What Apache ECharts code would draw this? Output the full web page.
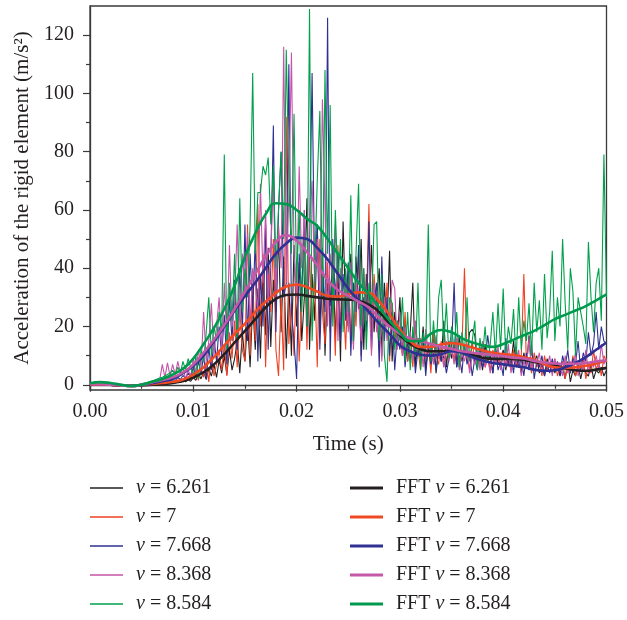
<!DOCTYPE html>
<html><head><meta charset="utf-8">
<script src="https://cdn.jsdelivr.net/npm/echarts@6/dist/echarts.min.js"></script>
<style>html,body{margin:0;padding:0;background:#fff}#c{width:627px;height:620px}</style>
</head><body><div id="c"></div>
<script>
// sampling of the raw signals and of the FFT-filtered curves (seconds)
const sampleStep = 0.00025;
const fftStep = 0.001;

const speeds = ['6.261', '7', '7.668', '8.368', '8.584'];

// raw acceleration signals (m/s^2), one value per sampleStep
const raw6261 = [
0.2,0.3,0.3,0.2,0.1,0,0,-0.1,-0.2,-0.3,-0.4,-0.4,-0.4,-0.4,-0.4,-0.3,-0.4,-0.3,-0.4,-0.3,
-0.2,-0.1,0,0.1,0.1,0.2,0.3,0.3,0.4,0.5,0.6,0.5,0.8,0.6,1.0,0.8,1.3,1.0,1.6,1.2,
2.5,1.5,3.8,2,4.5,1.8,5.5,3,7,2.5,8.5,4,10,3.5,12,5,9,15,4,18,
8,22,6,28,12,33,9,40,17,47,13,36,25,52,18,44,9,35,10,48,
20,42,15,30,64,12,38,22,55,18,47,10,35,27,45,16,40,8,56,25,
20,45,14,44,26,50,12,38,24,48,18,30,40,10,35,20,46,8,25,15,
30,10,22,8,18,35,6,16,9,20,5,14,7,18,4,12,8,22,6,15,
9,14,6,17,8,12,10,18,19,17,7,11,5,14,8,10,4,13,7,9,
12,5,10,7,15,6,9,4,11,6,17,5,8,10,4,7,3,9,6,8,
4,7,3,6,2,8,1,5,3,7,2,6,4,3,7,2,5,4,6,3,5];
const raw7 = [
0,0,0,0,0,0,-0.1,-0.2,-0.2,-0.3,-0.3,-0.3,-0.3,-0.3,-0.2,-0.3,-0.2,-0.2,-0.1,0,
0,0.1,0.2,0.3,0.2,0.4,0.3,0.5,0.4,0.6,0.5,0.9,0.6,1.2,0.8,1.6,1,2.2,1.4,3,
2,4.5,1.5,6,2.5,8,1,10,3,7,12,5,14,3,18,9,22,6,26,12,
8,55,10,35,15,62,20,45,6,38,25,50,12,3,30,5,92,14,28,10,
40,8,30,55,12,45,20,38,6,50,25,14,42,18,35,10,48,22,30,12,
40,15,35,20,45,10,30,25,62,18,38,25,12,30,20,35,8,28,15,22,
18,10,25,8,15,6,20,12,5,16,9,14,4,18,10,7,15,6,12,9,
14,8,16,6,12,40,10,5,15,8,11,7,13,6,10,5,12,8,9,6,
11,7,9,5,12,8,6,10,38,7,9,4,11,6,8,3,10,5,7,4,
9,3,6,8,2,7,4,10,3,6,5,9,2,7,4,12,5,8,3,10,8];
const raw7668 = [
0.3,0.3,0.2,0.2,0.1,0,0,-0.1,-0.2,-0.3,-0.3,-0.4,-0.4,-0.4,-0.3,-0.4,-0.3,-0.2,-0.3,-0.1,
0,0.1,0.2,0.3,0.4,0.5,0.6,0.7,0.9,1,1.3,1.1,1.8,1.4,2.5,1.8,3.2,2.2,4,3,
6,3,8,4,10,2,13,5,16,8,20,10,24,7,30,15,36,12,40,18,
55,15,45,25,50,8,38,20,55,12,42,89,18,60,80,30,35,110,25,15,
2,45,30,60,20,50,107,35,55,12,40,25,126,8,50,30,45,15,38,22,
42,10,35,25,48,8,30,18,56,12,28,35,6,44,15,30,10,25,5,18,
12,20,6,15,8,18,4,12,9,16,3,14,7,11,5,13,8,10,4,9,
12,35,6,10,4,14,7,11,3,9,5,13,6,8,17,10,4,12,5,8,
3,16,7,10,4,13,6,9,3,11,5,14,2,8,6,10,3,7,4,9,
5,8,3,10,6,12,4,9,7,15,5,11,8,18,10,14,25,12,20,15,14];
const raw8368 = [
0.2,0.2,0.2,0.1,0.1,0,0,-0.1,-0.2,-0.3,-0.3,-0.4,-0.4,-0.3,-0.3,-0.2,-0.2,-0.1,0,0.2,
0.3,0.5,0.6,0.8,1,1.2,1.5,1.7,7,2.5,7.5,3,7,3.5,8,4,6,2,5,3,
9,4,12,6,25,8,15,28,10,20,30,12,35,15,48,20,28,55,22,45,
30,52,20,40,35,25,69,35,60,28,45,70,30,55,40,116,35,65,114,45,
30,75,40,60,25,55,70,35,50,30,98,60,20,45,35,55,15,40,25,38,
18,42,12,35,28,15,40,22,30,10,35,18,25,8,30,15,22,36,33,12,
25,10,20,14,18,8,22,12,16,6,19,10,14,7,17,9,12,6,15,8,
13,7,16,5,11,8,14,4,10,7,12,5,15,6,9,4,11,7,13,5,
10,6,14,4,9,7,12,3,8,6,16,5,9,7,11,4,8,6,10,3,
9,5,7,3,10,4,8,6,11,3,7,5,12,4,8,6,10,5,14,7,9];
const raw8584 = [
0.5,0.7,0.9,1,0.9,0.8,0.6,0.4,0.2,0,-0.1,-0.3,-0.4,-0.4,-0.4,-0.3,-0.3,-0.2,0,0.1,
0.3,0.6,0.8,1,1.3,1.6,2,2.3,2.6,3,3.5,4,5,3.5,6,4,8,5,9,6,
3,10,2,12,8,18,30,10,20,15,25,18,79,12,35,22,45,15,64,25,
40,30,55,107,45,66,66,75,72,78,55,75,40,60,80,50,115,70,45,93,
35,60,25,50,20,129,15,40,70,94,30,108,45,96,20,60,35,50,18,40,
25,65,15,45,69,20,40,12,35,25,55,56,15,38,10,1,30,28,12,22,
15,30,8,25,5,20,10,35,5,18,12,55,8,22,10,30,36,14,28,9,
20,12,25,6,18,10,30,8,15,22,5,16,10,20,8,14,25,10,28,12,
33,10,20,14,26,8,30,12,22,15,28,10,35,18,29,12,38,16,25,46,
15,30,20,50,28,12,40,32,10,30,25,20,14,49,30,18,35,40,22,79,30];

// FFT-filtered curves, one value per fftStep
const fft6261 = [0.2,0.1,0,-0.2,-0.4,-0.2,0,0.3,0.6,1.3, 2.5,4.3,7,10.5,14.5,18.5,22.5,26.5,29.5,30.8,
 31,30.5,30,29.5,29.3,29.2,28.8,27.5,25,21, 17,14,12.2,11.5,11.5,11.8,11.3,10.3,9.3,8.9,
 8.9,8.9,8.5,7.8,7.2,6.5,5.6,5,4.8,5.2,5.8];
const fft7 = [0,0,0,-0.2,-0.3,-0.1,0.3,0.6,1,1.8, 3.5,6,9.5,13.5,17.5,21,25,28.5,31.5,33.7,
 34.3,33.5,32,30.5,30.3,31,31.7,31.5,28.5,24, 19,15,13,13,13.8,14.3,13.8,12.8,11.8,11,
 10.5,10.2,9.5,8.5,7,6,5.8,6,6.5,7.3,8.3];
const fft7668 = [0.3,0.3,0.2,-0.1,-0.4,-0.1,0.5,1.2,2,4, 6.5,10,15,20,25.5,30.5,35,40,45,48.5,
 50.5,50,47,43,38,33,29,25,21,17.5, 13.5,11.5,10.3,10,10.5,11.5,11,9.5,8.3,7.5,
 7,6.5,6,5.2,4.8,5,6,7.5,9.5,12,14.5];
const fft8368 = [0.2,0.2,0,-0.2,-0.4,-0.1,0.8,1.6,2.6,4.2, 7,11,15.5,20.5,26,32,38,44,49,51.3,
 49.5,45.5,41,36,32.5,30.5,28.5,26.5,23,20, 17.5,16,15,14,13,12.3,11.5,11,10.6,10.2,
 9.8,9.3,9,8.2,7.6,7.3,7.2,7.2,7.5,8,8.3];
const fft8584 = [0.5,0.9,0.6,0,-0.4,0,1,2,3.5,5.5, 9,14,19.5,26,34,44,52,58.5,62.3,62,
 60,57,54.5,50,45,40,35,31,26.5,22, 18,15,15,17.5,18.8,18,16,14.5,13.5,13,
 14,15.5,17,18.5,20.5,22.5,24,25.5,27,29,31];

const yTicks = [0, 20, 40, 60, 80, 100, 120];
const yMinorTicks = [10, 30, 50, 70, 90, 110];

const rawSets = [raw6261, raw7, raw7668, raw8368, raw8584];
const fftSets = [fft6261, fft7, fft7668, fft8368, fft8584];
const rawColors = ['#231f20', '#ef4123', '#2e3192', '#c455a8', '#00a14b'];
const fftColors = ['#231f20', '#f04a24', '#2e3192', '#c459a8', '#009a4e'];

const toPairs = (arr, step) => arr.map((v, i) => [+(i * step).toFixed(6), v]);

const FONT = '"Liberation Serif", "DejaVu Serif", serif';
const TXT = '#231f20';
const AX = '#3a3a3a';

const rawNames = speeds.map(s => 'ν = ' + s);
const fftNames = speeds.map(s => 'FFT ν = ' + s);

const series = [];
rawSets.forEach((arr, k) => series.push({
  name: rawNames[k], type: 'line', data: toPairs(arr, sampleStep),
  symbol: 'none', lineStyle: { width: 1.1, color: rawColors[k] }, itemStyle: { color: rawColors[k] },
  z: 2, silent: true
}));
fftSets.forEach((arr, k) => series.push({
  name: fftNames[k], type: 'line', data: toPairs(arr, fftStep), smooth: 0.5,
  symbol: 'none', lineStyle: { width: 2.6, color: fftColors[k] }, itemStyle: { color: fftColors[k] },
  z: 3, silent: true
}));

const legendText = {
  fontFamily: FONT, fontSize: 20, color: TXT, lineHeight: 20, padding: [0, 0, 0, 8],
  rich: { i: { fontFamily: FONT, fontSize: 20, fontStyle: 'italic', color: TXT } }
};
const fmt = name => name.replace('ν', '{i|ν}');
const legendBase = {
  orient: 'vertical', top: 478, height: 150, padding: 0, itemWidth: 33, itemGap: 9, icon: 'rect',
  formatter: fmt, textStyle: legendText, selectedMode: false
};

const chart = echarts.init(document.getElementById('c'));
chart.setOption({
  animation: false,
  backgroundColor: '#fff',
  grid: { left: 90, right: 18, top: 6, bottom: 230, show: true, borderColor: AX, borderWidth: 1.3 },
  legend: [
    Object.assign({}, legendBase, { data: rawNames, left: 90, itemHeight: 1.6 }),
    Object.assign({}, legendBase, { data: fftNames, left: 350, itemHeight: 3 })
  ],
  xAxis: {
    type: 'value', min: 0, max: 0.05, interval: 0.01,
    name: 'Time (s)', nameLocation: 'middle', nameGap: 44,
    nameTextStyle: { fontFamily: FONT, fontSize: 21, color: TXT },
    axisLine: { lineStyle: { color: AX, width: 1.3 } },
    axisTick: { length: 7, lineStyle: { color: AX, width: 1.2 } },
    minorTick: { show: true, splitNumber: 2, length: 4, lineStyle: { color: AX, width: 1.2 } },
    splitLine: { show: false },
    axisLabel: { fontFamily: FONT, fontSize: 20, color: TXT, margin: 12, formatter: v => v.toFixed(2) }
  },
  yAxis: [
    {
      type: 'value', min: -1.8, max: 130,
      name: 'Acceleration of the rigid element (m/s²)', nameLocation: 'middle', nameGap: 57,
      nameTextStyle: { fontFamily: FONT, fontSize: 21, color: TXT },
      axisLine: { show: true, lineStyle: { color: AX, width: 1.3 } },
      axisTick: { show: true, length: 7, customValues: yTicks, lineStyle: { color: AX, width: 1.2 } },
      splitLine: { show: false },
      axisLabel: { fontFamily: FONT, fontSize: 20, color: TXT, margin: 16, customValues: yTicks }
    },
    {
      type: 'value', min: -1.8, max: 130, position: 'left',
      axisLine: { show: false },
      axisTick: { show: true, length: 4, customValues: yMinorTicks, lineStyle: { color: AX, width: 1.2 } },
      splitLine: { show: false },
      axisLabel: { show: false }
    }
  ],
  series: series
});
</script>
</body></html>
